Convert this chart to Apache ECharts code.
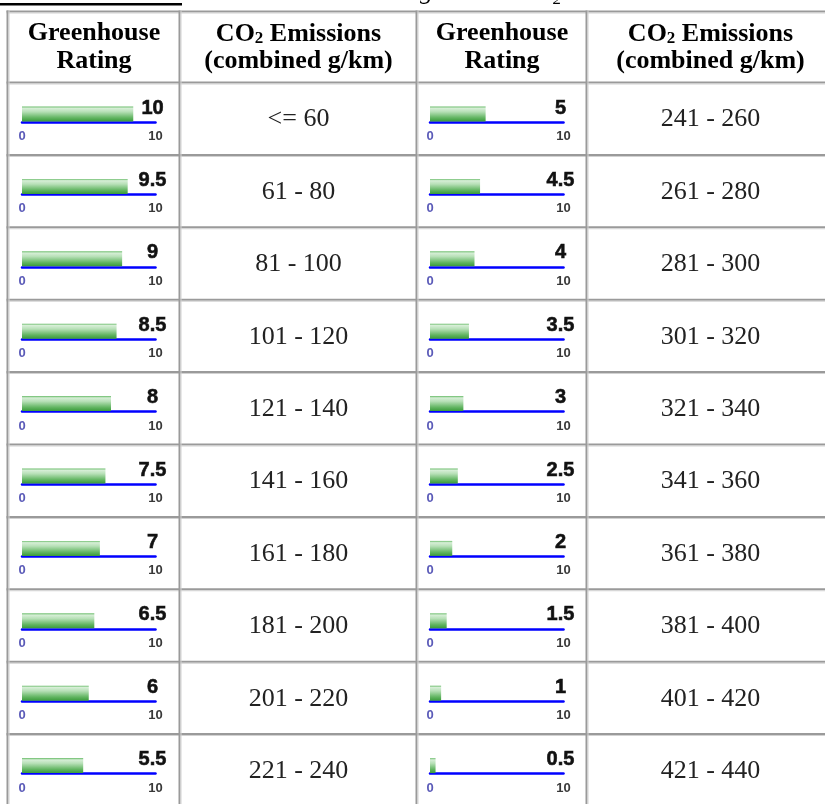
<!DOCTYPE html>
<html>
<head>
<meta charset="utf-8">
<script src="https://cdn.jsdelivr.net/npm/echarts@6/dist/echarts.min.js"></script>
<style>
html,body{margin:0;padding:0;background:#ffffff;}
#chart{width:825px;height:804px;}
</style>
</head>
<body>
<div id="chart"></div>
<script>
// ---- data ----
const HEADER_RATING = ['Greenhouse', 'Rating'];
const HEADER_CO2_MAIN = 'CO';
const HEADER_CO2_SUB = '2';
const HEADER_CO2_REST = ' Emissions';
const HEADER_CO2_LINE2 = '(combined g/km)';
const CAPTION_LEFT = 'Greenhouse Rating';
const CAPTION_CO = 'CO';
const CAPTION_SUB = '2';
const RATINGS_LEFT = [10, 9.5, 9, 8.5, 8, 7.5, 7, 6.5, 6, 5.5];
const RATINGS_RIGHT = [5, 4.5, 4, 3.5, 3, 2.5, 2, 1.5, 1, 0.5];
const CO2_LEFT = ['<= 60', '61 - 80', '81 - 100', '101 - 120', '121 - 140', '141 - 160', '161 - 180', '181 - 200', '201 - 220', '221 - 240'];
const CO2_RIGHT = ['241 - 260', '261 - 280', '281 - 300', '301 - 320', '321 - 340', '341 - 360', '361 - 380', '381 - 400', '401 - 420', '421 - 440'];
const TICK_LABELS = ['0', '10'];

// ---- layout ----
const AXIS_MAX = 12;
const TABLE_LEFT = 8, TABLE_RIGHT = 834;
const COL_X = [8, 180, 417, 587];
const HEADER_TOP = 12, HEADER_BOTTOM = 83, ROW_H = 72.4, NROWS = 10;
const TABLE_BOTTOM = HEADER_BOTTOM + NROWS * ROW_H;
const SERIF = '"Liberation Serif", "Times New Roman", serif';
const SANS = '"Liberation Sans", Arial, sans-serif';

const graphics = [];
function txt(text, x, y, font, fill, align, extra) {
  const st = Object.assign({
    text: text, x: x, y: y, font: font, fill: fill,
    align: align || 'center', verticalAlign: 'middle',
    textAlign: align || 'center', textVerticalAlign: 'middle'
  }, extra || {});
  graphics.push({ type: 'text', silent: true, z: 10, style: st });
}

// top rule & clipped caption
graphics.push({ type: 'rect', silent: true, shape: { x: 0, y: 3, width: 182, height: 2.5 }, style: { fill: '#000' } });
txt(CAPTION_LEFT, 433, -8, 'italic 26px ' + SERIF, '#000', 'right');
txt(CAPTION_CO, 553, -13, 'italic 26px ' + SERIF, '#000', 'right');
txt(CAPTION_SUB, 553, 0, 'italic 17px ' + SERIF, '#000', 'left');

// table separators
const hLines = [HEADER_TOP];
for (let k = 0; k <= NROWS; k++) hLines.push(HEADER_BOTTOM + k * ROW_H);
hLines.forEach(function (y) {
  graphics.push({ type: 'rect', silent: true, shape: { x: TABLE_LEFT - 1.5, y: y - 1.5, width: TABLE_RIGHT - TABLE_LEFT, height: 2 }, style: { fill: '#9a9a9a' } });
  graphics.push({ type: 'rect', silent: true, shape: { x: TABLE_LEFT - 1.5, y: y + 0.5, width: TABLE_RIGHT - TABLE_LEFT, height: 1 }, style: { fill: '#d2d2d2' } });
});
COL_X.forEach(function (x) {
  graphics.push({ type: 'rect', silent: true, shape: { x: x - 1.5, y: HEADER_TOP - 1.5, width: 2, height: TABLE_BOTTOM - HEADER_TOP }, style: { fill: '#9a9a9a' } });
  graphics.push({ type: 'rect', silent: true, shape: { x: x + 0.5, y: HEADER_TOP - 1.5, width: 1, height: TABLE_BOTTOM - HEADER_TOP }, style: { fill: '#d2d2d2' } });
});

// headers
const colCenters = [94, 298.5, 502, 710.5];
const headFont = 'bold 26px ' + SERIF;
[0, 2].forEach(function (c) {
  txt(HEADER_RATING[0], colCenters[c], 33.5, headFont, '#000');
  txt(HEADER_RATING[1], colCenters[c], 61.5, headFont, '#000');
});
[1, 3].forEach(function (c) {
  graphics.push({
    type: 'text', silent: true, z: 10,
    style: {
      text: '{b|' + HEADER_CO2_MAIN + '}{s|' + HEADER_CO2_SUB + '}{b|' + HEADER_CO2_REST + '}',
      x: colCenters[c], y: 33.5,
      align: 'center', verticalAlign: 'middle', textAlign: 'center', textVerticalAlign: 'middle',
      rich: {
        b: { font: headFont, fill: '#000', color: '#000', lineHeight: 28, verticalAlign: 'bottom' },
        s: { font: 'bold 17px ' + SERIF, fill: '#000', color: '#000', lineHeight: 17, verticalAlign: 'bottom' }
      }
    }
  });
  txt(HEADER_CO2_LINE2, colCenters[c], 61.5, headFont, '#000');
});

// cells
const grids = [], xAxes = [], yAxes = [], series = [];
const barGradient = {
  type: 'linear', x: 0, y: 0, x2: 0, y2: 1,
  colorStops: [
    { offset: 0, color: '#6cbd6c' },
    { offset: 0.12, color: '#d6eed6' },
    { offset: 0.35, color: '#b7e0b7' },
    { offset: 0.75, color: '#62b562' },
    { offset: 1, color: '#3a9a3a' }
  ]
};
const BAR_W = 133.5;
[0, 1].forEach(function (side) {
  const ratings = side ? RATINGS_RIGHT : RATINGS_LEFT;
  const ranges = side ? CO2_RIGHT : CO2_LEFT;
  const barLeft = side ? 430 : 22;
  const textCenter = side ? colCenters[3] : colCenters[1];
  for (let i = 0; i < NROWS; i++) {
    const r = HEADER_BOTTOM + i * ROW_H;
    const g = grids.length;
    grids.push({ left: barLeft, top: r + 23, width: BAR_W, height: 16 });
    xAxes.push({
      gridIndex: g, type: 'value', min: 0, max: AXIS_MAX, interval: AXIS_MAX,
      axisLine: { show: true, onZero: false, lineStyle: { color: '#0000ff', width: 2.5 } },
      axisTick: { show: false }, splitLine: { show: false },
      axisLabel: {
        show: true, margin: 8, showMinLabel: true, showMaxLabel: true,
        formatter: function (v) {
          if (v === 0) return '{a|' + TICK_LABELS[0] + '}';
          if (v === AXIS_MAX) return '{b|' + TICK_LABELS[1] + '}';
          return '';
        },
        rich: {
          a: { color: '#5a5ab8', fontWeight: 'bold', fontSize: 13, fontFamily: SANS },
          b: { color: '#383838', fontWeight: 'bold', fontSize: 13, fontFamily: SANS }
        }
      }
    });
    yAxes.push({ gridIndex: g, type: 'category', data: ['r'], show: false });
    series.push({
      type: 'bar', xAxisIndex: g, yAxisIndex: g, data: [ratings[i]],
      barWidth: 15, silent: true, itemStyle: { color: barGradient }
    });
    txt(String(ratings[i]), barLeft + BAR_W - 3, r + 25, 'bold 20px ' + SANS, '#111', 'center',
      { stroke: '#222', lineWidth: 0.6 });
    txt(ranges[i], textCenter, r + 36.5, '26px ' + SERIF, '#222');
  }
});

const chart = echarts.init(document.getElementById('chart'), null, { renderer: 'canvas', width: 825, height: 804 });
chart.setOption({
  backgroundColor: '#ffffff',
  animation: false,
  grid: grids, xAxis: xAxes, yAxis: yAxes, series: series,
  graphic: { elements: graphics }
});
</script>
</body>
</html>
